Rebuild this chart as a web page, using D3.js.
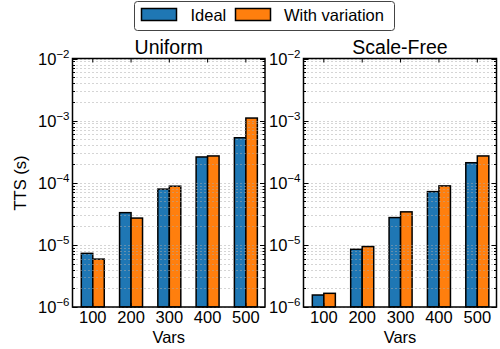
<!DOCTYPE html>
<html><head><meta charset="utf-8">
<script src="https://cdn.jsdelivr.net/npm/d3@7"></script>
<style>body{margin:0;background:#fff}svg{display:block;font-family:"Liberation Sans",Arial,sans-serif}</style>
</head><body><svg id="c" width="500" height="349"></svg>
<script>
const categories = ["100","200","300","400","500"];
const panels = ["Uniform","Scale-Free"];
const seriesNames = ["Ideal","With variation"];
const uniformIdeal = [7.3e-6, 3.3e-5, 7.9e-5, 2.6e-4, 5.3e-4];
const uniformVar   = [5.9e-6, 2.7e-5, 8.8e-5, 2.7e-4, 1.1e-3];
const sfIdeal = [1.56e-6, 8.5e-6, 2.75e-5, 7.2e-5, 2.1e-4];
const sfVar   = [1.66e-6, 9.4e-6, 3.4e-5, 8.9e-5, 2.7e-4];
const yTickExps = [-6,-5,-4,-3,-2];
const colors = ["#1f77b4","#ff7f0e"];

const svg = d3.select("#c");
const plotTop = 58.5, plotBottom = 307;
const y = d3.scaleLog().domain([1e-6,1e-2]).range([plotBottom, plotTop]);
const panelX = [[72.5,265],[303.5,496.5]];
const data = [[uniformIdeal, uniformVar],[sfIdeal, sfVar]];

const minor = [];
for (let e=-6;e<-2;e++) for (let k=2;k<=9;k++) minor.push(k*Math.pow(10,e));
const majors = yTickExps.map(e=>Math.pow(10,e));

panels.forEach((title, p) => {
  const [x0,x1] = panelX[p];
  const x = d3.scaleLinear().domain([-0.53,4.5]).range([x0,x1]);
  const g = svg.append("g");
  const bw = 0.3;
  data[p].forEach((ser, s) => {
    g.selectAll(null).data(ser).enter().append("rect")
      .attr("x", (d,i)=> x(i + (s===0 ? -bw : 0)))
      .attr("width", x(bw)-x(0))
      .attr("y", d=>y(d))
      .attr("height", d=>plotBottom - y(d))
      .attr("fill", colors[s]).attr("stroke","#000").attr("stroke-width",1.5);
  });
  g.selectAll(null).data(minor.concat(majors)).enter().append("line")
    .attr("x1",x0).attr("x2",x1).attr("y1",d=>Math.round(y(d))+0.5).attr("y2",d=>Math.round(y(d))+0.5)
    .attr("stroke","#aaaaaa").attr("stroke-width",1).attr("stroke-dasharray","1,3");
  const tk = g.append("g").attr("stroke","#000");
  minor.forEach(v=>{
    const yy = Math.round(y(v))+0.5;
    tk.append("line").attr("x1",x0).attr("x2",x0+2.5).attr("y1",yy).attr("y2",yy);
    tk.append("line").attr("x1",x1).attr("x2",x1-2.5).attr("y1",yy).attr("y2",yy);
  });
  majors.forEach(v=>{
    const yy = Math.round(y(v))+0.5;
    tk.append("line").attr("x1",x0).attr("x2",x0+5).attr("y1",yy).attr("y2",yy);
    tk.append("line").attr("x1",x1).attr("x2",x1-5).attr("y1",yy).attr("y2",yy);
  });
  categories.forEach((c,i)=>{
    tk.append("line").attr("x1",x(i)).attr("x2",x(i)).attr("y1",plotTop).attr("y2",plotTop+4);
    tk.append("line").attr("x1",x(i)).attr("x2",x(i)).attr("y1",plotBottom).attr("y2",plotBottom-4);
  });
  g.append("rect").attr("x",x0).attr("y",plotTop).attr("width",x1-x0).attr("height",plotBottom-plotTop)
    .attr("fill","none").attr("stroke","#000").attr("stroke-width",1.5);
  g.selectAll(null).data(categories).enter().append("text")
    .attr("x",(d,i)=>x(i)).attr("y",plotBottom+16).attr("text-anchor","middle")
    .attr("font-size",16.5).text(d=>d);
  yTickExps.forEach(e=>{
    const t = g.append("text").attr("x",x0-3).attr("y",y(Math.pow(10,e))+6)
      .attr("text-anchor","end").attr("font-size",16.5);
    t.append("tspan").text("10");
    t.append("tspan").attr("dy",-7).attr("font-size",11.5).text("\u2212"+Math.abs(e));
  });
  g.append("text").attr("x",(x0+x1)/2).attr("y",plotTop-5).attr("text-anchor","middle")
    .attr("font-size",19.5).text(title);
  g.append("text").attr("x",(x0+x1)/2).attr("y",343).attr("text-anchor","middle")
    .attr("font-size",16.5).text("Vars");
});

svg.append("text").attr("transform","translate(26,183) rotate(-90)").attr("text-anchor","middle")
  .attr("font-size",16.5).text("TTS (s)");

const lg = svg.append("g");
lg.append("rect").attr("x",134.5).attr("y",1.5).attr("width",260).attr("height",29).attr("rx",3)
  .attr("fill","#fff").attr("stroke","#444").attr("stroke-width",1);
const lx = [141.5, 235.5], tx = [190.5, 284];
seriesNames.forEach((n,i)=>{
  lg.append("rect").attr("x",lx[i]).attr("y",8.5).attr("width",35).attr("height",12)
    .attr("fill",colors[i]).attr("stroke","#000").attr("stroke-width",1.5);
  lg.append("text").attr("x",tx[i]).attr("y",20.5).attr("font-size",16.5).text(n);
});
</script></body></html>
